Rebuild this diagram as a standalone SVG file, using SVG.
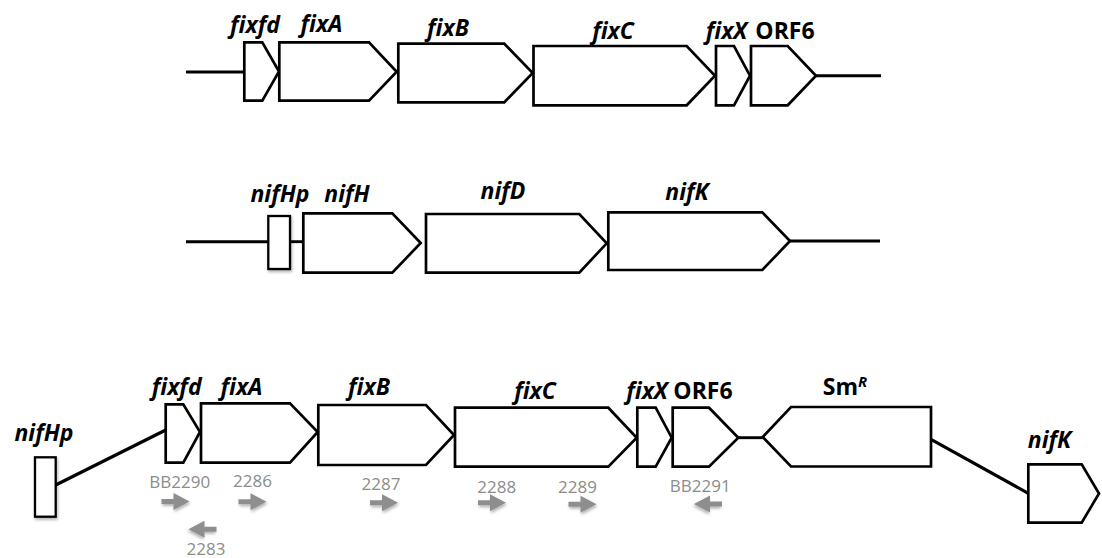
<svg xmlns="http://www.w3.org/2000/svg" width="1102" height="558" viewBox="0 0 1102 558">
<style>
.gene{fill:#fff;stroke:#000;stroke-width:2.7;stroke-linejoin:miter}
.prom{fill:#fff;stroke:#000;stroke-width:2.3;filter:url(#sh)}
.line{stroke:#000;stroke-width:2.9;fill:none}
.lab{font-family:"Open Sans","Liberation Sans",sans-serif;font-weight:bold;font-style:italic;font-size:23px;fill:#000;text-anchor:middle}
.labn{font-style:normal}
.pr{font-family:"Open Sans","Liberation Sans",sans-serif;font-size:17px;fill:#8c8c8c;text-anchor:middle}
.arr{fill:#8e8e8e;filter:url(#sh)}
</style>
<defs>
<filter id="sh" x="-30%" y="-30%" width="160%" height="170%">
<feDropShadow dx="1" dy="2" stdDeviation="1.5" flood-color="#000" flood-opacity="0.3"/>
</filter>
<path id="ra" d="M0,-2.5 H12 V-8.5 L28,0 L12,8.5 V2.5 H0 Z"/>
</defs>
<rect width="1102" height="558" fill="#fff"/>

<g id="connectors">
<line class="line" x1="186" y1="72" x2="244.3" y2="72"/>
<line class="line" x1="816" y1="75.7" x2="881" y2="75.7"/>
<line class="line" x1="186" y1="241.7" x2="268.3" y2="241.7"/>
<line class="line" x1="290" y1="241.7" x2="303.3" y2="241.7"/>
<line class="line" x1="790" y1="241" x2="880" y2="241"/>
<line class="line" x1="55.7" y1="485" x2="165.7" y2="430" style="stroke-width:3.2"/>
<line class="line" x1="738.3" y1="437.7" x2="762.7" y2="437.7"/>
<line class="line" x1="931" y1="439.3" x2="1028.3" y2="493.3" style="stroke-width:3.2"/>
</g>

<!-- Row 1 -->
<g id="r1-fixfd"><polygon class="gene" points="244.3,42.3 262.3,42.3 279,71.5 262.3,100.7 244.3,100.7"/><text class="lab" x="255" y="33">fixfd</text></g>
<g id="r1-fixA"><polygon class="gene" points="279.3,42.3 369,42.3 396.7,71.8 369,100.7 279.3,100.7"/><text class="lab" x="321.5" y="32.3">fixA</text></g>
<g id="r1-fixB"><polygon class="gene" points="398.3,43.7 504.3,43.7 532.7,73 504.3,102.3 398.3,102.3"/><text class="lab" x="448" y="35.5">fixB</text></g>
<g id="r1-fixC"><polygon class="gene" points="533.5,46 686.7,46 715,75.7 686.7,105.3 533.5,105.3"/><text class="lab" x="613" y="39">fixC</text></g>
<g id="r1-fixX"><polygon class="gene" points="716,46 734,46 750,75.7 734,105.3 716,105.3"/><text class="lab" x="726.5" y="39">fixX</text></g>
<g id="r1-ORF6"><polygon class="gene" points="751,46 787.7,46 816,75.7 787.7,105.3 751,105.3"/><text class="lab labn" x="785" y="39">ORF6</text></g>

<!-- Row 2 -->
<g id="r2-nifHp"><rect class="prom" x="268.3" y="216" width="21.7" height="53"/><text class="lab" x="280" y="201.7">nifHp</text></g>
<g id="r2-nifH"><polygon class="gene" points="303.3,213.3 392.3,213.3 420.7,243 392.3,272.7 303.3,272.7"/><text class="lab" x="347" y="201.7">nifH</text></g>
<g id="r2-nifD"><polygon class="gene" points="426,214 579.3,214 606.7,243.3 579.3,272.7 426,272.7"/><text class="lab" x="503" y="199">nifD</text></g>
<g id="r2-nifK"><polygon class="gene" points="608.3,212.3 762.3,212.3 790,241 762.3,270 608.3,270"/><text class="lab" x="687" y="200">nifK</text></g>

<!-- Row 3 -->
<g id="r3-nifHp"><rect class="prom" x="35" y="457.3" width="20.7" height="59.4"/><text class="lab" x="44" y="441">nifHp</text></g>
<g id="r3-fixfd"><polygon class="gene" points="165.7,404.3 183.3,404.3 200,432 183.3,462.7 165.7,462.7"/><text class="lab" x="176.7" y="395">fixfd</text></g>
<g id="r3-fixA"><polygon class="gene" points="201,403.3 290,403.3 317.7,432 290,462.7 201,462.7"/><text class="lab" x="241.5" y="395">fixA</text></g>
<g id="r3-fixB"><polygon class="gene" points="318.3,405 426,405 454,435 426,465 318.3,465"/><text class="lab" x="369" y="395">fixB</text></g>
<g id="r3-fixC"><polygon class="gene" points="455,407.7 608.3,407.7 636.7,437.7 608.3,466.7 455,466.7"/><text class="lab" x="535" y="399.3">fixC</text></g>
<g id="r3-fixX"><polygon class="gene" points="637.3,407.7 655.7,407.7 671.7,437.7 655.7,466.7 637.3,466.7"/><text class="lab" x="647" y="399.3">fixX</text></g>
<g id="r3-ORF6"><polygon class="gene" points="672.7,407.7 709,407.7 738.3,437.7 709,466.7 672.7,466.7"/><text class="lab labn" x="703" y="399.3">ORF6</text></g>
<g id="r3-SmR"><polygon class="gene" points="762.7,437 791,407 931,407 931,466.5 791,466.5"/><text class="lab labn" x="845" y="395">Sm<tspan font-style="italic" font-size="15" dy="-8">R</tspan></text></g>
<g id="r3-nifK"><polygon class="gene" points="1028.3,464.3 1081.7,464.3 1099,493.5 1081.7,522.7 1028.3,522.7"/><text class="lab" x="1049.5" y="448.3">nifK</text></g>

<!-- Primers -->
<g id="p-BB2290"><text class="pr" x="179.7" y="488.3">BB2290</text><use href="#ra" class="arr" transform="translate(161.5,501.5)"/></g>
<g id="p-2286"><text class="pr" x="252.5" y="486.7">2286</text><use href="#ra" class="arr" transform="translate(238.5,501.7)"/></g>
<g id="p-2283"><text class="pr" x="206" y="555">2283</text><use href="#ra" class="arr" transform="translate(216.5,529.3) scale(-1,1)"/></g>
<g id="p-2287"><text class="pr" x="381" y="490">2287</text><use href="#ra" class="arr" transform="translate(370,502.7)"/></g>
<g id="p-2288"><text class="pr" x="496.7" y="492.7">2288</text><use href="#ra" class="arr" transform="translate(478,502.7)"/></g>
<g id="p-2289"><text class="pr" x="577.5" y="492.7">2289</text><use href="#ra" class="arr" transform="translate(568.5,504.3)"/></g>
<g id="p-BB2291"><text class="pr" x="700.3" y="491.7">BB2291</text><use href="#ra" class="arr" transform="translate(722,504) scale(-1,1)"/></g>
</svg>
